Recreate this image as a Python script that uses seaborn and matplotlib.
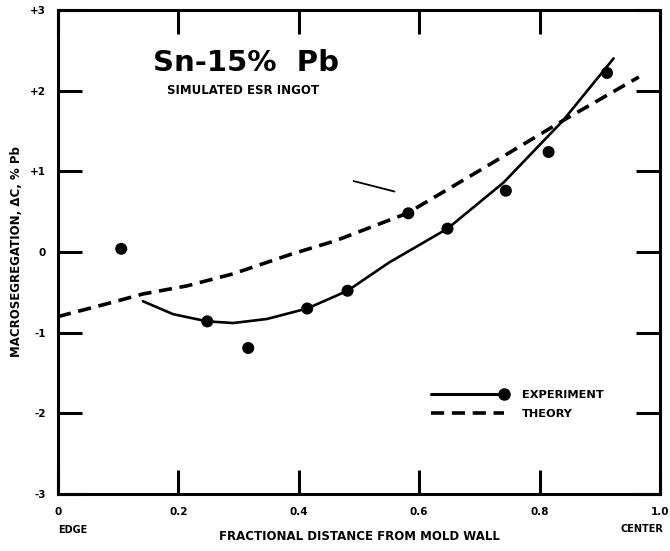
import matplotlib
matplotlib.use("Agg")
import matplotlib.pyplot as plt
from matplotlib.lines import Line2D
from matplotlib.legend_handler import HandlerLine2D
import pandas as pd
import seaborn as sns

# measured points (experiment)
exp_x = [0.105, 0.248, 0.316, 0.414, 0.481, 0.582, 0.647, 0.744, 0.815, 0.912]
exp_y = [0.04, -0.86, -1.19, -0.70, -0.48, 0.48, 0.29, 0.76, 1.24, 2.22]

# hand-drawn experiment curve
fit_x = [0.141, 0.191, 0.248, 0.291, 0.347, 0.414, 0.481, 0.55, 0.647, 0.74, 0.839, 0.923]
fit_y = [-0.61, -0.77, -0.86, -0.88, -0.83, -0.70, -0.48, -0.13, 0.29, 0.86, 1.63, 2.40]

# theory curve
th_x = [0.0, 0.087, 0.141, 0.214, 0.291, 0.386, 0.461, 0.58, 0.707, 0.839, 0.965]
th_y = [-0.80, -0.63, -0.52, -0.42, -0.27, -0.03, 0.14, 0.48, 1.04, 1.63, 2.17]

# stray stroke in the scan
stray_x = [0.491, 0.559]
stray_y = [0.88, 0.75]

x_ticks = [0, 0.2, 0.4, 0.6, 0.8, 1.0]
x_labels = ["0", "0.2", "0.4", "0.6", "0.8", "1.0"]
y_ticks = [3, 2, 1, 0, -1, -2, -3]
y_labels = ["+3", "+2", "+1", "0", "-1", "-2", "-3"]


class EndMarker(HandlerLine2D):
    # legend line with the dot only at its right end
    def create_artists(self, *args, **kwargs):
        arts = super().create_artists(*args, **kwargs)
        for a in arts:
            a.set_markevery([1])
        return arts


sns.set_style("white")
plt.rcParams["font.family"] = ["DejaVu Sans"]
plt.rcParams["lines.scale_dashes"] = False
for k in ["text.color", "axes.labelcolor", "xtick.color", "ytick.color"]:
    plt.rcParams[k] = "black"

fig = plt.figure(figsize=(6.7, 5.51), dpi=100)
ax = fig.add_axes([0.0866, 0.1034, 0.8984, 0.8784])

df_fit = pd.DataFrame({"x": fit_x, "y": fit_y})
df_th = pd.DataFrame({"x": th_x, "y": th_y})
df_exp = pd.DataFrame({"x": exp_x, "y": exp_y})

sns.lineplot(data=df_th, x="x", y="y", sort=False, color="black", lw=2.6,
             ax=ax, linestyle=(0, (9.5, 5.5)))
sns.lineplot(data=df_fit, x="x", y="y", sort=False, color="black", lw=1.9, ax=ax)
sns.scatterplot(data=df_exp, x="x", y="y", color="black", s=75, edgecolor="none", ax=ax, zorder=5)
sns.lineplot(x=stray_x, y=stray_y, color="black", lw=1.3, ax=ax)

ax.set_xlim(0, 1.0)
ax.set_ylim(-3, 3)
ax.set_xticks(x_ticks)
ax.set_xticklabels(x_labels, fontsize=7.5, fontweight="bold")
ax.set_yticks(y_ticks)
ax.set_yticklabels(y_labels, fontsize=7.5, fontweight="bold")
ax.tick_params(direction="in", length=17, width=2.2, top=True, right=True,
               bottom=True, left=True, pad=9, color="black")
for sp in ax.spines.values():
    sp.set_linewidth(2.2)
    sp.set_color("black")

ax.set_xlabel("FRACTIONAL DISTANCE FROM MOLD WALL", fontsize=8.5, fontweight="bold", labelpad=10)
ax.set_ylabel("MACROSEGREGATION, \u0394C, % Pb", fontsize=8.5, fontweight="bold", labelpad=5)

ax.text(0.0, -0.075, "EDGE", transform=ax.transAxes, fontsize=7, fontweight="bold",
        ha="left", va="center")
ax.text(0.97, -0.072, "CENTER", transform=ax.transAxes, fontsize=7, fontweight="bold",
        ha="center", va="center")

ax.text(0.312, 0.89, "Sn-15%  Pb", transform=ax.transAxes, fontsize=21,
        fontweight="bold", ha="center", va="center")
ax.text(0.307, 0.833, "SIMULATED ESR INGOT", transform=ax.transAxes, fontsize=8.5,
        fontweight="bold", ha="center", va="center")

h_exp = Line2D([], [], color="black", lw=2.2, marker="o", markersize=8)
h_th = Line2D([], [], color="black", lw=2.6, linestyle=(0, (9.5, 5.5)))
ax.legend([h_exp, h_th], ["EXPERIMENT", "THEORY"], loc="upper left",
          bbox_to_anchor=(0.597, 0.237), frameon=False, numpoints=2,
          handlelength=7.0, handletextpad=1.3, labelspacing=0.85,
          handler_map={h_exp: EndMarker()},
          prop={"size": 8.2, "weight": "bold"})

fig.savefig("out.png", dpi=100)
